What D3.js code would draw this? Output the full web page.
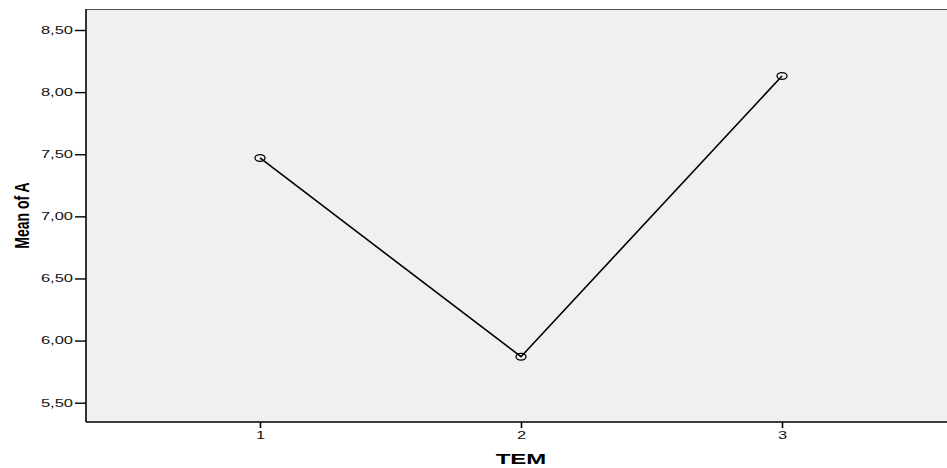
<!DOCTYPE html>
<html>
<head>
<meta charset="utf-8">
<script src="https://cdn.jsdelivr.net/npm/d3@7"></script>
<style>
  body { margin: 0; background: #fff; }
  svg { display: block; }
</style>
</head>
<body>
<svg id="chart"></svg>
<script>
// data
const categories = [1, 2, 3];
const meanValues = [7.47, 5.87, 8.13];
const yTicks = [5.5, 6.0, 6.5, 7.0, 7.5, 8.0, 8.5];

const width = 947, height = 468;
const plotLeft = 86, plotTop = 9, plotBottom = 422;
const stretch = 1.6; // the original picture is stretched sideways

const svg = d3.select("#chart")
  .attr("width", width)
  .attr("height", height);

const x = d3.scaleLinear()
  .domain([1 / 3, 11 / 3])
  .range([plotLeft, 956]);

const y = d3.scaleLinear()
  .domain([5.5, 8.5])
  .range([402.7, 30]);

// plot background
svg.append("rect")
  .attr("x", plotLeft)
  .attr("y", plotTop)
  .attr("width", width - plotLeft)
  .attr("height", plotBottom - plotTop)
  .attr("fill", "#f0f0f0");

// top frame line
svg.append("line")
  .attr("x1", plotLeft).attr("x2", width)
  .attr("y1", plotTop + 0.5).attr("y2", plotTop + 0.5)
  .attr("stroke", "#555")
  .attr("stroke-width", 1.2);

const fmt = d => d3.format(".2f")(d).replace(".", ",");

// y axis
const yAxis = svg.append("g")
  .attr("transform", `translate(${plotLeft},0)`)
  .call(d3.axisLeft(y).tickValues(yTicks).tickFormat(fmt).tickSize(11).tickSizeOuter(0).tickPadding(2));

yAxis.select(".domain").remove();
yAxis.selectAll(".tick line").attr("stroke", "#000").attr("stroke-width", 1.4);
yAxis.selectAll(".tick text")
  .attr("x", null)
  .attr("transform", `translate(-13,0) scale(${stretch},1)`)
  .attr("fill", "#111")
  .style("font-family", "'Liberation Sans', Arial, sans-serif")
  .style("font-size", "10.3px");

svg.append("line")
  .attr("x1", plotLeft).attr("x2", plotLeft)
  .attr("y1", plotTop).attr("y2", plotBottom)
  .attr("stroke", "#000")
  .attr("stroke-width", 1.6);

// x axis
const xAxis = svg.append("g")
  .attr("transform", `translate(0,${plotBottom})`)
  .call(d3.axisBottom(x).tickValues(categories).tickFormat(d3.format("d")).tickSize(6).tickSizeOuter(0).tickPadding(4));

xAxis.select(".domain").remove();
xAxis.selectAll(".tick line").attr("stroke", "#000").attr("stroke-width", 1.6);
xAxis.selectAll(".tick text")
  .attr("y", null)
  .attr("transform", `translate(0,10) scale(${stretch},1)`)
  .attr("fill", "#111")
  .style("font-family", "'Liberation Sans', Arial, sans-serif")
  .style("font-size", "10.3px");

svg.append("line")
  .attr("x1", plotLeft).attr("x2", width)
  .attr("y1", plotBottom).attr("y2", plotBottom)
  .attr("stroke", "#000")
  .attr("stroke-width", 1.6);

// axis titles
svg.append("text")
  .attr("transform", `translate(${x(2)},464) scale(${stretch},1)`)
  .attr("text-anchor", "middle")
  .style("font-family", "'Liberation Sans', Arial, sans-serif")
  .style("font-weight", "bold")
  .style("font-size", "15px")
  .attr("fill", "#000")
  .text("TEM");

svg.append("text")
  .attr("transform", `translate(29,${(plotTop + plotBottom) / 2}) scale(1.5,1) rotate(-90)`)
  .attr("text-anchor", "middle")
  .style("font-family", "'Liberation Sans', Arial, sans-serif")
  .style("font-weight", "bold")
  .style("font-size", "14px")
  .attr("fill", "#000")
  .text("Mean of A");

// line and markers
const points = categories.map((c, i) => ({ c: c, v: meanValues[i] }));

svg.append("path")
  .datum(points)
  .attr("d", d3.line().x(d => x(d.c)).y(d => y(d.v)))
  .attr("fill", "none")
  .attr("stroke", "#000")
  .attr("stroke-width", 1.6);

svg.selectAll(".marker")
  .data(points)
  .enter()
  .append("ellipse")
  .attr("class", "marker")
  .attr("cx", d => x(d.c))
  .attr("cy", d => y(d.v))
  .attr("rx", 5)
  .attr("ry", 3.4)
  .attr("fill", "none")
  .attr("stroke", "#000")
  .attr("stroke-width", 1.3);
</script>
</body>
</html>
